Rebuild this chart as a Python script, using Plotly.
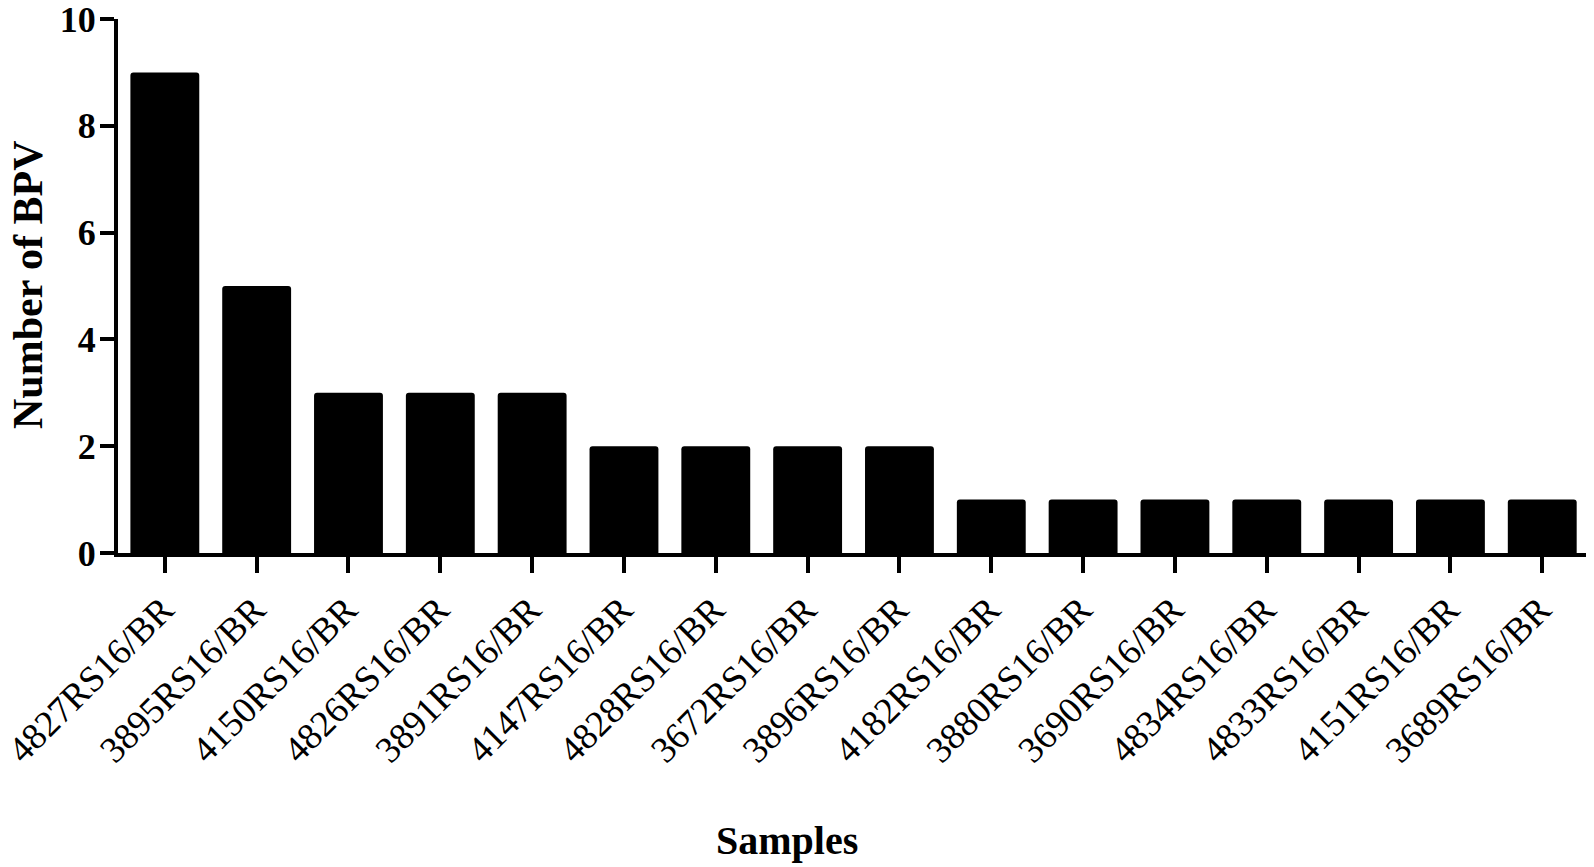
import plotly.graph_objects as go

# data
samples = ["4827RS16/BR", "3895RS16/BR", "4150RS16/BR", "4826RS16/BR",
           "3891RS16/BR", "4147RS16/BR", "4828RS16/BR", "3672RS16/BR",
           "3896RS16/BR", "4182RS16/BR", "3880RS16/BR", "3690RS16/BR",
           "4834RS16/BR", "4833RS16/BR", "4151RS16/BR", "3689RS16/BR"]
bpv_counts = [9, 5, 3, 3, 3, 2, 2, 2, 2, 1, 1, 1, 1, 1, 1, 1]
y_ticks = [0, 2, 4, 6, 8, 10]

serif = "Times New Roman, Liberation Serif, serif"

# the page body has an 8px margin, so shrink the figure to fit the window
off = 8
W, H = 1594 - off, 867 - off
# top margin a little larger so the "10" label is not clipped by the page edge
L, R, T, B = 118 - off, 4, 19 - off, 314
pw, ph = W - L - R, H - T - B


def to_paper(px, py):
    # screen pixel -> paper coords
    return (px - off - L) / pw, (H - B - (py - off)) / ph


fig = go.Figure()
fig.add_trace(go.Bar(
    x=samples, y=bpv_counts,
    marker=dict(color="black", line=dict(width=0), cornerradius=3),
    width=0.75,
))

sx, sy = to_paper(787, 840)
nx, ny = to_paper(28, 285)
fig.update_layout(
    width=W, height=H,
    paper_bgcolor="white", plot_bgcolor="white",
    margin=dict(l=L, r=R, t=T, b=B),
    showlegend=False,
    font=dict(family=serif, color="black"),
    annotations=[
        dict(text="<b>Samples</b>", x=sx, y=sy, xref="paper", yref="paper",
             xanchor="center", yanchor="middle",
             showarrow=False, font=dict(size=40, family=serif)),
        dict(text="<b>Number of BPV</b>", textangle=-90, x=nx, y=ny,
             xref="paper", yref="paper", xanchor="center", yanchor="middle",
             showarrow=False, font=dict(size=42, family=serif)),
    ],
)

fig.update_xaxes(
    type="category", range=[-0.51, 15.52], automargin=False,
    showline=True, linecolor="black", linewidth=4,
    ticks="outside", ticklen=16, tickwidth=4, tickcolor="black",
    tickangle=-45, tickfont=dict(size=37, family=serif),
    ticklabelshift=-2,
    ticklabeloverflow="allow",
    showgrid=False, zeroline=False,
)
fig.update_yaxes(
    range=[0, 10], tickvals=y_ticks, automargin=False,
    showline=True, linecolor="black", linewidth=4,
    ticks="outside", ticklen=14, tickwidth=4, tickcolor="black",
    tickfont=dict(size=36, family=serif, weight="bold"),
    ticklabelstandoff=-3, ticklabeloverflow="allow",
    showgrid=False, zeroline=False,
)

fig.write_html("out.html")
